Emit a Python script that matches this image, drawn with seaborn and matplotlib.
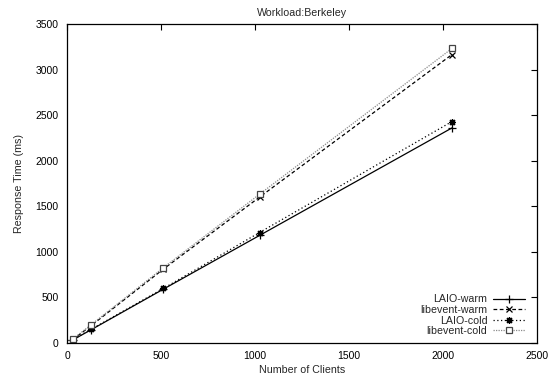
import pandas as pd
import numpy as np
import seaborn as sns
from matplotlib import pyplot as plt

sns.set_style('white')
plt.rcParams['font.family'] = ['Liberation Sans', 'DejaVu Sans']

# data
clients = [1, 32, 128, 512, 1024, 2048]
laio_warm = [5, 35, 145, 590, 1180, 2360]
libevent_warm = [5, 40, 190, 810, 1600, 3165]
laio_cold = [5, 38, 150, 598, 1212, 2430]
libevent_cold = [5, 45, 200, 825, 1632, 3232]

series = ['LAIO-warm', 'libevent-warm', 'LAIO-cold', 'libevent-cold']
values = [laio_warm, libevent_warm, laio_cold, libevent_cold]

df = pd.DataFrame({
    'clients': clients * len(series),
    'ms': np.concatenate(values),
    'series': np.repeat(series, len(clients)),
})

styles = {
    'LAIO-warm': dict(color='black', linestyle='-', marker='+', markersize=5.5,
                      mfc='black', mec='black'),
    'libevent-warm': dict(color='black', linestyle=(0, (3, 2)), marker='x', markersize=4,
                          mfc='black', mec='black'),
    'LAIO-cold': dict(color='black', linestyle=(0, (1, 2)), marker=(8, 2, 0), markersize=5,
                      mfc='black', mec='black'),
    'libevent-cold': dict(color='#8a8a8a', linestyle=(0, (1, 1)), marker='s', markersize=4,
                          mfc='white', mec='#444444'),
}

fig = plt.figure(figsize=(5.52, 3.78), dpi=100)
ax = fig.add_axes([0.1214, 0.0926, 0.8514, 0.8439])

for name in series:
    sns.lineplot(data=df[df['series'] == name], x='clients', y='ms', ax=ax,
                 label=name, linewidth=0.9, markeredgewidth=0.9, **styles[name])

ax.set_xlim(0, 2500)
ax.set_ylim(0, 3500)
ax.set_xticks(range(0, 2501, 500))
ax.set_yticks(range(0, 3501, 500))
ax.tick_params(direction='in', length=4, width=0.8, labelsize=7.5, top=True, right=True,
               pad=6, colors='black')
for s in ax.spines.values():
    s.set_color('black')
    s.set_linewidth(0.9)

ax.set_title('Workload:Berkeley', fontsize=7.7, pad=6)
ax.set_xlabel('Number of Clients', fontsize=7.7, labelpad=3)
ax.set_ylabel('Response Time (ms)', fontsize=7.7, labelpad=8)

ax.legend(loc='lower right', bbox_to_anchor=(0.989, 0.0), frameon=False, fontsize=7.7,
          markerfirst=False, handlelength=3.0, handletextpad=0.5, labelspacing=0.05,
          borderaxespad=0.25)

plt.savefig('out.png', dpi=100)
plt.close()
